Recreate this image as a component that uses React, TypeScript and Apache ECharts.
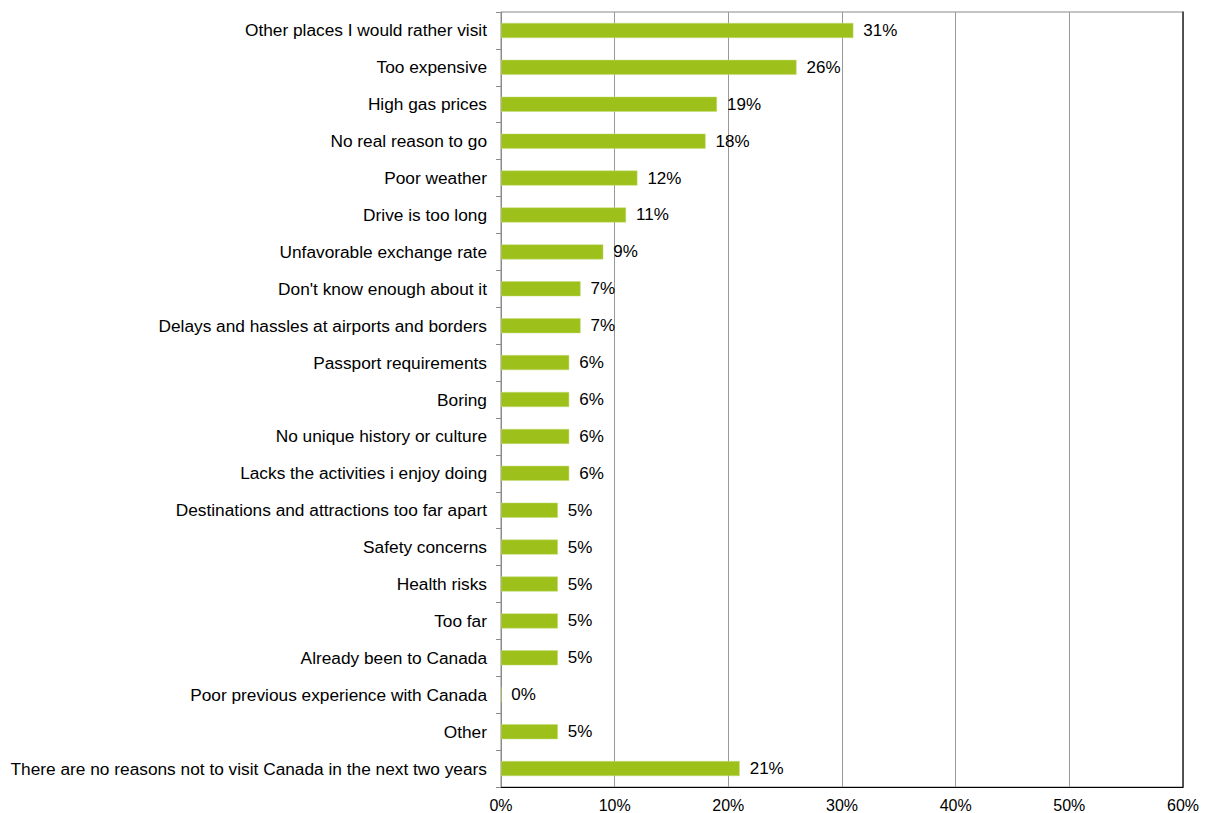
import React, { useEffect, useRef } from "react";
import * as echarts from "echarts";

const categories = [
  "Other places I would rather visit",
  "Too expensive",
  "High gas prices",
  "No real reason to go",
  "Poor weather",
  "Drive is too long",
  "Unfavorable exchange rate",
  "Don't know enough about it",
  "Delays and hassles at airports and borders",
  "Passport requirements",
  "Boring",
  "No unique history or culture",
  "Lacks the activities i enjoy doing",
  "Destinations and attractions too far apart",
  "Safety concerns",
  "Health risks",
  "Too far",
  "Already been to Canada",
  "Poor previous experience with Canada",
  "Other",
  "There are no reasons not to visit Canada in the next two years",
];
const values = [31, 26, 19, 18, 12, 11, 9, 7, 7, 6, 6, 6, 6, 5, 5, 5, 5, 5, 0, 5, 21];

export default function App() {
  const ref = useRef<HTMLDivElement>(null);
  useEffect(() => {
    const chart = echarts.init(ref.current!, null, { renderer: "svg" });
    const font = "'Liberation Sans', Arial, sans-serif";
    chart.setOption({
      animation: false,
      grid: {
        left: 501,
        right: 25,
        top: 12,
        bottom: 26,
        show: true,
        borderColor: "#8a8a8a",
        borderWidth: 1,
      },
      xAxis: [
        {
          type: "value",
          min: 0,
          max: 60,
          interval: 10,
          axisLine: { show: true, lineStyle: { color: "#000", width: 1 } },
          axisTick: { show: false },
          splitLine: { show: true, lineStyle: { color: "#999", width: 1 } },
          axisLabel: {
            formatter: "{value}%",
            color: "#000",
            fontFamily: font,
            fontSize: 16,
            margin: 10,
          },
        },
      ],
      yAxis: [
        {
          type: "category",
          data: categories,
          inverse: true,
          axisLine: { show: true, lineStyle: { color: "#8a8a8a" } },
          axisTick: { show: true, length: 5, lineStyle: { color: "#8a8a8a" } },
          axisLabel: {
            color: "#000",
            fontFamily: font,
            fontSize: 17.3,
            margin: 14,
          },
        },
        {
          type: "category",
          data: categories,
          inverse: true,
          position: "right",
          axisLine: { show: true, lineStyle: { color: "#333", width: 1.5 } },
          axisTick: { show: false },
          axisLabel: { show: false },
        },
      ],
      series: [
        {
          type: "bar",
          data: values,
          barWidth: 15,
          itemStyle: { color: "#9dc11a", borderColor: "#c4db7a", borderWidth: 0.5 },
          label: {
            show: true,
            position: "right",
            distance: 10,
            formatter: "{c}%",
            color: "#000",
            fontFamily: font,
            fontSize: 17,
          },
        },
      ],
    });
    return () => chart.dispose();
  }, []);
  return (
    <div
      ref={ref}
      style={{ position: "absolute", left: 0, top: 0, width: 1208, height: 813 }}
    />
  );
}
